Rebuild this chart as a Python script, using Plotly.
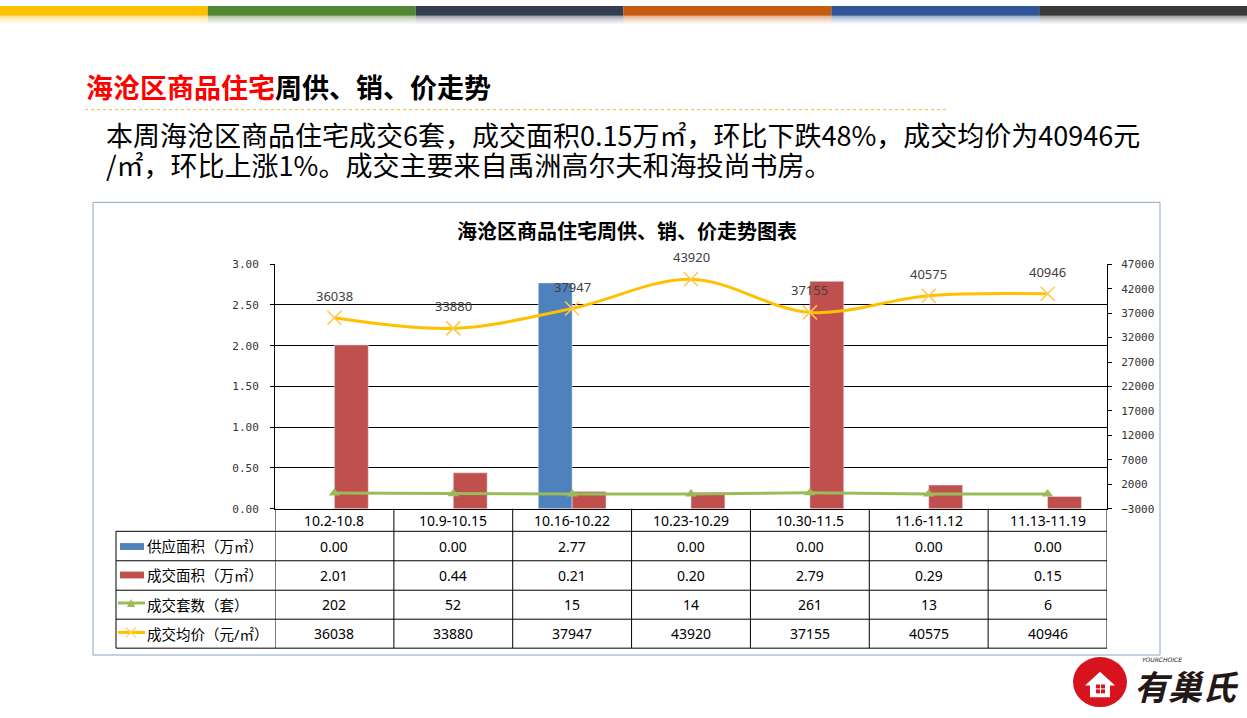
import plotly.graph_objects as go

# ---------------- data ----------------
categories = ["10.2-10.8", "10.9-10.15", "10.16-10.22", "10.23-10.29", "10.30-11.5", "11.6-11.12", "11.13-11.19"]
supply_area = [0.00, 0.00, 2.77, 0.00, 0.00, 0.00, 0.00]
deal_area = [2.01, 0.44, 0.21, 0.20, 2.79, 0.29, 0.15]
deal_units = [202, 52, 15, 14, 261, 13, 6]
avg_price = [36038, 33880, 37947, 43920, 37155, 40575, 40946]
row_labels = ["供应面积（万㎡）", "成交面积（万㎡）", "成交套数（套）", "成交均价（元/㎡）"]

W, H = 1247, 718
def px(x): return x / W
def py(y): return 1 - y / H

BLUE, RED, GREEN, YELLOW = "#4F81BD", "#C0504D", "#9BBB59", "#FFC000"
CJK = "Noto Sans CJK SC"
LAT = "Noto Sans, Noto Sans CJK SC"

fig = go.Figure()
fig.add_trace(go.Bar(x=categories, y=supply_area, name=row_labels[0], marker_color=BLUE,
                     offsetgroup="a", yaxis="y"))
fig.add_trace(go.Bar(x=categories, y=deal_area, name=row_labels[1], marker_color=RED,
                     offsetgroup="b", yaxis="y"))
fig.add_trace(go.Scatter(x=categories, y=deal_units, name=row_labels[2], yaxis="y2", mode="lines+markers",
                         line=dict(color=GREEN, width=3),
                         marker=dict(symbol="triangle-up", size=10, color=GREEN)))
fig.add_trace(go.Scatter(x=categories, y=avg_price, name=row_labels[3], yaxis="y2", mode="lines+markers",
                         line=dict(color=YELLOW, width=3, shape="spline", smoothing=1.0),
                         marker=dict(symbol="x-thin", size=14, color=YELLOW,
                                     line=dict(color="#FFC84A", width=1.5))))

shapes = []
annotations = []

# top colour strips
strip_colors = ["#FFC000", "#508733", "#333F50", "#C55A11", "#2F5597", "#3A3A3A"]
sw = W / 6
for i, c in enumerate(strip_colors):
    shapes.append(dict(type="rect", xref="paper", yref="paper", x0=px(i * sw), x1=px((i + 1) * sw),
                       y0=py(0), y1=py(10), fillcolor=c, line_width=0, layer="below"))
    for k, op in enumerate([0.45, 0.3, 0.18, 0.08]):
        shapes.append(dict(type="rect", xref="paper", yref="paper", x0=px(i * sw), x1=px((i + 1) * sw),
                           y0=py(10 + 2 * k), y1=py(12 + 2 * k), fillcolor=c, opacity=op,
                           line_width=0, layer="below"))

# heading
annotations.append(dict(xref="paper", yref="paper", x=px(84), y=py(82), xanchor="left", yanchor="middle",
                        showarrow=False,
                        text="<b><span style='color:#FF0000'>海沧区商品住宅</span>周供、销、价走势</b>",
                        font=dict(family=CJK, size=27, color="#000000")))
shapes.append(dict(type="line", xref="paper", yref="paper", x0=px(85), x1=px(948), y0=py(105.5), y1=py(105.5),
                   line=dict(color="#F2C230", width=1, dash="dot")))
annotations.append(dict(xref="paper", yref="paper", x=px(104), y=py(131), xanchor="left", yanchor="middle",
                        showarrow=False,
                        text="本周海沧区商品住宅成交6套，成交面积0.15万㎡，环比下跌48%，成交均价为40946元",
                        font=dict(family=CJK, size=27, color="#000000")))
annotations.append(dict(xref="paper", yref="paper", x=px(104), y=py(161), xanchor="left", yanchor="middle",
                        showarrow=False,
                        text="/㎡，环比上涨1%。成交主要来自禹洲高尔夫和海投尚书房。",
                        font=dict(family=CJK, size=27, color="#000000")))

# chart frame
shapes.append(dict(type="rect", xref="paper", yref="paper", x0=px(93), x1=px(1160), y0=py(200), y1=py(661),
                   line=dict(color="#8EA6C2", width=1), fillcolor="rgba(0,0,0,0)"))
annotations.append(dict(xref="paper", yref="paper", x=px(627), y=py(229), xanchor="center", yanchor="middle",
                        showarrow=False, text="<b>海沧区商品住宅周供、销、价走势图表</b>",
                        font=dict(family=CJK, size=20, color="#000000")))

# price data labels
for c, v in zip(categories, avg_price):
    annotations.append(dict(x=c, y=v, xref="x", yref="y2", yshift=22, showarrow=False, text=str(v),
                            yanchor="middle", font=dict(family=LAT, size=13, color="#404040")))

# data table
row_tops = [535, 565, 595, 624.5, 654]
hdr_top = 512
for yy in row_tops:
    shapes.append(dict(type="line", xref="paper", yref="paper", x0=px(116), x1=px(1107), y0=py(yy), y1=py(yy),
                       line=dict(color="#000000", width=1)))
shapes.append(dict(type="line", xref="paper", yref="paper", x0=px(116), x1=px(116), y0=py(535), y1=py(654),
                   line=dict(color="#000000", width=1)))
for i in range(len(categories) + 1):
    shapes.append(dict(type="line", xref="x", yref="paper", x0=i - 0.5, x1=i - 0.5, y0=py(hdr_top), y1=py(654),
                       line=dict(color="#000000", width=1)))
for c in categories:
    annotations.append(dict(x=c, xref="x", yref="paper", y=py(524), yanchor="middle", showarrow=False, text=c,
                            font=dict(family=LAT, size=14, color="#000000")))
table_rows = [
    [f"{v:.2f}" for v in supply_area],
    [f"{v:.2f}" for v in deal_area],
    [str(v) for v in deal_units],
    [str(v) for v in avg_price],
]
for r, vals in enumerate(table_rows):
    yc = (row_tops[r] + row_tops[r + 1]) / 2
    annotations.append(dict(xref="paper", yref="paper", x=px(145), y=py(yc), xanchor="left", yanchor="middle",
                            showarrow=False, text=row_labels[r],
                            font=dict(family=LAT, size=14.5, color="#000000")))
    for c, t in zip(categories, vals):
        annotations.append(dict(x=c, xref="x", yref="paper", y=py(yc), yanchor="middle", showarrow=False, text=t,
                                font=dict(family=LAT, size=14, color="#000000")))

# legend keys in table
shapes.append(dict(type="rect", xref="paper", yref="paper", x0=px(120), x1=px(144), y0=py(547), y1=py(554),
                   fillcolor=BLUE, line_width=0))
shapes.append(dict(type="rect", xref="paper", yref="paper", x0=px(120), x1=px(144), y0=py(576), y1=py(583),
                   fillcolor=RED, line_width=0))
shapes.append(dict(type="line", xref="paper", yref="paper", x0=px(118), x1=px(145), y0=py(608), y1=py(608),
                   line=dict(color=GREEN, width=3)))
shapes.append(dict(type="path", xref="paper", yref="paper",
                   path=f"M {px(127)},{py(612)} L {px(135)},{py(612)} L {px(131)},{py(604)} Z",
                   fillcolor=GREEN, line_width=0))
shapes.append(dict(type="line", xref="paper", yref="paper", x0=px(118), x1=px(145), y0=py(638), y1=py(638),
                   line=dict(color=YELLOW, width=3)))
for (a, b, c2, d) in [(126, 633, 136, 643), (126, 643, 136, 633)]:
    shapes.append(dict(type="line", xref="paper", yref="paper", x0=px(a), x1=px(c2), y0=py(b), y1=py(d),
                       line=dict(color="#FFD54F", width=1.2)))

# logo
shapes.append(dict(type="circle", xref="paper", yref="paper", x0=px(1073), x1=px(1127), y0=py(663), y1=py(714),
                   fillcolor="#D7141D", line_width=0))
shapes.append(dict(type="path", xref="paper", yref="paper",
                   path=(f"M {px(1085)},{py(692)} L {px(1100)},{py(678)} L {px(1115)},{py(692)} "
                         f"L {px(1110)},{py(692)} L {px(1110)},{py(704)} L {px(1090)},{py(704)} "
                         f"L {px(1090)},{py(692)} Z"),
                   fillcolor="#FFFFFF", line_width=0))
for (wx, wy) in [(1096, 691), (1101, 691), (1096, 696), (1101, 696)]:
    shapes.append(dict(type="rect", xref="paper", yref="paper", x0=px(wx), x1=px(wx + 4), y0=py(wy), y1=py(wy + 4),
                       fillcolor="#D7141D", line_width=0))
annotations.append(dict(xref="paper", yref="paper", x=px(1132), y=py(692), xanchor="left", yanchor="middle",
                        showarrow=False, text="<b><i>有巢氏</i></b>",
                        font=dict(family=CJK, size=34, color="#231815")))
annotations.append(dict(xref="paper", yref="paper", x=px(1140), y=py(666), xanchor="left", yanchor="middle",
                        showarrow=False, text="<i>YOURCHOICE</i>",
                        font=dict(family="DejaVu Sans", size=6, color="#231815")))

tickfont = dict(family="DejaVu Sans Mono", size=11, color="#333333")
fig.update_layout(
    width=W, height=H, margin=dict(l=0, r=0, t=0, b=0),
    paper_bgcolor="white", plot_bgcolor="white",
    showlegend=False, barmode="group", bargap=0.43, bargroupgap=0,
    xaxis=dict(domain=[px(275), px(1107)], range=[-0.5, 6.5], type="category",
               showticklabels=False, ticks="", showgrid=False, showline=True,
               linecolor="#000000", linewidth=1, zeroline=False),
    yaxis=dict(domain=[py(512), py(263)], range=[0, 3], dtick=0.5, tickformat=".2f",
               showgrid=True, gridcolor="#000000", gridwidth=1, showline=True, linecolor="#000000",
               ticks="outside", ticklen=4, tickcolor="#000000", ticklabelstandoff=9,
               tickfont=tickfont, zeroline=False),
    yaxis2=dict(overlaying="y", side="right", range=[-3000, 47000], tick0=-3000, dtick=5000,
                tickformat="d",
                showgrid=False, showline=True, linecolor="#000000", ticks="outside", ticklen=4,
                tickcolor="#000000", ticklabelstandoff=7, tickfont=tickfont, zeroline=False,
                anchor="x"),
    shapes=shapes, annotations=annotations,
)

fig.write_html("out.html", config={"displayModeBar": False, "responsive": False},
               post_script="document.body.style.margin='0';document.body.style.overflow='hidden';")
